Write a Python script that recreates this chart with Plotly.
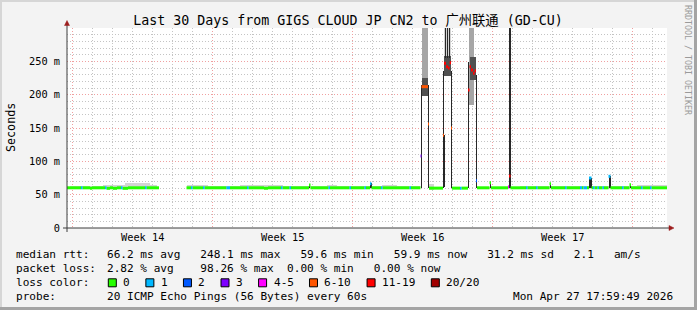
import plotly.graph_objects as go

# ---------------- data ----------------
LOSS_LABELS = ["0", "1", "2", "3", "4-5", "6-10", "11-19", "20/20"]
LOSS_UPPER = [0, 1, 2, 3, 5, 10, 19, 20]
LOSS_COLORS = ["#26ff00", "#00b8ff", "#0059ff", "#7e00ff", "#ff00ff", "#ff5500", "#ff0000", "#a10000"]

T_END = 30.0  # days shown (Last 30 Days)

# median rtt steps: start time (days since window start), median (ms), lost pings (of 20)
med_t = [0, 0.7, 0.775, 1.15, 1.25, 1.9, 1.975, 2.15, 2.3, 2.5, 2.7, 2.775, 3.05, 3.9, 3.975, 4.6,
         5.975, 6.2, 6.275, 6.8, 6.875, 7.975, 8.15, 9.0, 9.075, 9.85, 10.05, 10.7, 10.775, 11.125, 11.2,
         12.1, 12.175, 13.075, 13.15, 14.125, 14.2, 14.875, 14.95, 15.15, 15.225, 15.7, 15.775, 17.125, 17.2,
         17.675, 17.725, 18.05, 18.1, 18.8, 18.85, 18.95, 19.05, 19.13, 19.2, 19.25, 19.65, 19.725,
         20.05, 20.125, 20.2, 20.3, 20.38, 20.45, 20.5, 21.125, 21.2, 22.05, 22.1, 22.175,
         22.95, 23.025, 23.45, 23.525, 24.125, 24.2, 24.9, 24.975, 25.65, 25.75, 25.825, 26.0, 26.1, 26.225,
         26.3, 26.375, 26.525, 26.6, 26.775, 26.85, 27.075, 27.175, 27.75, 27.825, 28.125, 28.2, 28.7, 28.775, 29.15, 29.225]
med_ms = [60.3, 60.3, 60.3, 59.6, 60.3, 60.3, 59.5, 60.3, 59.5, 60.3, 60.3, 59.5, 60.3, 60.3, 60.3, None,
          60.3, 60.3, 60.3, 60.3, 60.3, 60.3, 60.3, 60.3, 60.3, 59.6, 60.3, 60.3, 60.3, 60.3, 60.3,
          64.5, 60.3, 60.3, 60.3, 60.3, 60.3, 60.3, 60.3, 66.5, 60.3, 60.3, 60.3, 60.3, 60.3,
          108, 212, 156, 59.8, 139, 247, 242, 240, 248, 150, 59.8, 59.8, 59.8,
          207, 242, 237, 232, 236, 71, 60.3, 68, 60.3, 62, 78, 60.3,
          60.3, 60.3, 60.3, 60.3, 66.5, 60.3, 60.3, 60.3, 60.3, 60.3, 60.3, 60.3, 75, 60.3,
          60.3, 60.3, 60.3, 60.3, 60.3, 60.3, 77.5, 60.3, 60.3, 60.3, 65, 60.3, 60.3, 60.3, 60.3, 60.3]
med_loss = [0, 1, 0, 0, 0, 1, 0, 0, 0, 0, 1, 0, 0, 1, 0, None,
            0, 1, 0, 1, 0, 1, 0, 1, 0, 0, 0, 1, 0, 1, 0,
            0, 0, 1, 0, 1, 0, 1, 0, 1, 0, 1, 0, 1, 0,
            3, 8, 8, 0, 8, 15, 15, 15, 15, 8, 0, 1, 0,
            15, 15, 15, 15, 15, 2, 0, 0, 0, 4, 15, 0,
            1, 0, 1, 0, 0, 0, 1, 0, 1, 0, 1, 0, 1, 0,
            1, 0, 1, 0, 1, 0, 1, 0, 1, 0, 0, 0, 1, 0, 1, 0]

# smoke (ping spread) bands: (t0, t1, low ms, high ms), by shade
smoke_light = [(0.15, 1.8, 59, 63), (1.8, 2.9, 59, 65), (2.9, 4.15, 59, 67), (4.15, 4.5, 59, 65),
               (6.0, 6.65, 59, 65), (6.65, 7.05, 59, 64), (7.05, 8.65, 59, 62.5), (8.65, 9.5, 59, 64),
               (9.5, 10.8, 59, 65), (10.8, 13.0, 59, 62.5), (13.0, 13.5, 59, 64.5), (13.5, 15.75, 59, 62.5),
               (15.75, 16.5, 59, 65), (16.5, 17.65, 59, 63.5), (18.1, 18.35, 57, 66), (18.35, 18.8, 59, 62),
               (18.85, 19.2, 255, 310), (19.25, 20.05, 59, 62), (20.5, 22.65, 59, 62),
               (22.65, 25.65, 59, 62.5), (25.65, 28.5, 59, 63), (28.5, 30.0, 59, 64.5)]
smoke_mid = [(17.725, 18.05, 225, 310), (20.1, 20.35, 185, 310)]
smoke_dark = [(17.725, 18.05, 198, 225), (18.85, 19.2, 228, 258), (20.125, 20.45, 222, 256)]
smoke_black = [(17.675, 17.735, 60, 214), (18.035, 18.1, 60, 214), (18.8, 18.86, 60, 236),
               (18.8, 18.9, 62, 139), (18.9, 18.94, 255, 310), (18.99, 19.03, 255, 310),
               (19.12, 19.16, 255, 310), (19.2, 19.26, 60, 235), (20.05, 20.11, 60, 249),
               (20.45, 20.51, 60, 230), (21.125, 21.2, 60, 68), (22.075, 22.185, 60, 310),
               (12.1, 12.165, 60, 65), (15.15, 15.225, 60, 67), (24.125, 24.2, 60, 67),
               (26.1, 26.235, 60, 75), (27.075, 27.185, 60, 78), (28.125, 28.19, 60, 65)]

week_bounds = [0.25, 7.25, 14.25, 21.25, 28.25]
week_label_pos = [3.75, 10.75, 17.75, 24.75]
week_labels = ["Week 14", "Week 15", "Week 16", "Week 17"]

y_tickvals = [0, 50, 100, 150, 200, 250]
y_ticktext = ["0", "50 m", "100 m", "150 m", "200 m", "250 m"]

title_text = "Last 30 Days from GIGS CLOUD JP CN2 to 广州联通 (GD-CU)"
row_labels = ["median rtt:", "packet loss:", "loss color:", "probe:"]
rtt_text = "66.2 ms avg   248.1 ms max   59.6 ms min   59.9 ms now   31.2 ms sd   2.1   am/s"
loss_text = "2.82 % avg    98.26 % max  0.00 % min   0.00 % now"
probe_text = "20 ICMP Echo Pings (56 Bytes) every 60s"
date_text = "Mon Apr 27 17:59:49 2026"
watermark = "RRDTOOL / TOBI OETIKER"

# ---------------- layout helpers ----------------
W, H = 697, 310
ML, MR, MT, MB = 67, 30, 28, 82
PW, PH = W - ML - MR, H - MT - MB
MONO = "DejaVu Sans Mono, Noto Sans CJK SC, monospace"


def px_x(px):
    return (px - ML) / PW


def px_y(py):
    return (H - MB - py) / PH


def nb(s):
    return s.replace(" ", "\u00a0")


def loss_cat(l):
    for i, up in enumerate(LOSS_UPPER):
        if l <= up:
            return i
    return len(LOSS_UPPER) - 1


fig = go.Figure()


def add_smoke(segs, color):
    # colour alpha slightly below 1 makes plotly snap bar edges to whole pixels (crisp columns)
    fig.add_trace(go.Bar(
        x=[(a + b) / 2 for a, b, _, _ in segs],
        width=[b - a for a, b, _, _ in segs],
        base=[lo for _, _, lo, _ in segs],
        y=[hi - lo for _, _, lo, hi in segs],
        marker=dict(color=color, line=dict(width=0)),
        hoverinfo="skip", showlegend=False))


add_smoke(smoke_light, "rgba(211,211,211,0.999)")
add_smoke(smoke_mid, "rgba(166,166,166,0.999)")
add_smoke(smoke_dark, "rgba(81,81,81,0.999)")
add_smoke(smoke_black, "rgba(39,39,39,0.999)")

# median line, coloured by packet loss
bounds = med_t + [T_END]
seg_x = {i: [] for i in range(len(LOSS_UPPER))}
seg_y = {i: [] for i in range(len(LOSS_UPPER))}
for i, (m, l) in enumerate(zip(med_ms, med_loss)):
    if m is None:
        continue
    c = loss_cat(l)
    seg_x[c] += [bounds[i], bounds[i + 1], None]
    seg_y[c] += [m, m, None]
for c in range(len(LOSS_UPPER)):
    if seg_x[c]:
        fig.add_trace(go.Scatter(x=seg_x[c], y=seg_y[c], mode="lines",
                                 line=dict(color=LOSS_COLORS[c], width=3),
                                 hoverinfo="skip", showlegend=False))

MAJ = "#f0a0a0"
MIN = "#c4c4c4"
DOT = "1px,2px"

fig.update_layout(
    width=W, height=H, autosize=False,
    margin=dict(l=ML, r=MR, t=MT, b=MB, pad=0),
    paper_bgcolor="#f3f3f3", plot_bgcolor="#ffffff",
    barmode="overlay", bargap=0, showlegend=False,
    font=dict(family=MONO, size=11, color="#000000"),
    title=dict(text=title_text, font=dict(family=MONO, size=13.3, color="#000000"),
               xref="container", x=348.0 / W, xanchor="center",
               yref="container", y=1 - 20.0 / H, yanchor="middle"),
    xaxis=dict(range=[0, T_END], tickvals=week_bounds, showticklabels=False, ticks="",
               showgrid=True, gridcolor=MAJ, griddash=DOT, gridwidth=1,
               zeroline=False, showline=False, fixedrange=True,
               minor=dict(tick0=0.25, dtick=1, showgrid=True, gridcolor=MIN,
                          griddash=DOT, gridwidth=1, ticks="")),
    yaxis=dict(range=[0, 300], tickvals=y_tickvals, ticktext=[nb(t) for t in y_ticktext],
               ticks="", ticklabelstandoff=6, tickfont=dict(family=MONO, size=10.3, color="#000000"),
               showgrid=True, gridcolor=MAJ, griddash=DOT, gridwidth=1,
               zeroline=False, showline=False, fixedrange=True,
               minor=dict(tick0=0, dtick=10, showgrid=True, gridcolor=MIN,
                          griddash=DOT, gridwidth=1, ticks="")),
)

shapes = []
# frame
shapes.append(dict(type="rect", xref="paper", yref="paper", x0=px_x(0), x1=px_x(W), y0=px_y(0), y1=px_y(2),
                   fillcolor="#d6d6d6", line=dict(width=0), layer="below"))
shapes.append(dict(type="rect", xref="paper", yref="paper", x0=px_x(0), x1=px_x(2), y0=px_y(0), y1=px_y(H),
                   fillcolor="#d6d6d6", line=dict(width=0), layer="below"))
shapes.append(dict(type="rect", xref="paper", yref="paper", x0=px_x(0), x1=px_x(W), y0=px_y(H - 3), y1=px_y(H),
                   fillcolor="#a4a4a4", line=dict(width=0), layer="above"))
shapes.append(dict(type="rect", xref="paper", yref="paper", x0=px_x(W - 3), x1=px_x(W), y0=px_y(0), y1=px_y(H),
                   fillcolor="#a4a4a4", line=dict(width=0), layer="above"))
# axes with arrows
AX = "#3c3c3c"
ARR = "#9c1c1c"
shapes.append(dict(type="line", xref="paper", yref="paper", x0=px_x(67), x1=px_x(67), y0=px_y(232), y1=px_y(24),
                   line=dict(color=AX, width=1), layer="above"))
shapes.append(dict(type="line", xref="paper", yref="paper", x0=px_x(63), x1=px_x(670), y0=px_y(228), y1=px_y(228),
                   line=dict(color=AX, width=1), layer="above"))
shapes.append(dict(type="path", xref="paper", yref="paper",
                   path="M {a},{b} L {c},{b} L {d},{e} Z".format(a=px_x(64.5), b=px_y(25.5), c=px_x(69.5),
                                                               d=px_x(67), e=px_y(20.5)),
                   fillcolor=ARR, line=dict(color=ARR, width=0.5), layer="above"))
shapes.append(dict(type="path", xref="paper", yref="paper",
                   path="M {a},{b} L {a},{c} L {d},{e} Z".format(a=px_x(669), b=px_y(225.5), c=px_y(230.5),
                                                               d=px_x(674), e=px_y(228)),
                   fillcolor=ARR, line=dict(color=ARR, width=0.5), layer="above"))

annotations = []
# week labels (placed on the data x-scale)
for pos, lab in zip(week_label_pos, week_labels):
    annotations.append(dict(x=pos, xref="x", y=px_y(237.3), yref="paper", text=nb(lab), showarrow=False,
                            xanchor="center", yanchor="middle", font=dict(family=MONO, size=10.3, color="#000")))
# y axis title
annotations.append(dict(x=px_x(10.5), xref="paper", y=px_y(127.5), yref="paper", text="Seconds", textangle=-90,
                        showarrow=False, xanchor="center", yanchor="middle",
                        font=dict(family=MONO, size=11.7, color="#000")))
# watermark
annotations.append(dict(x=px_x(688), xref="paper", y=px_y(60), yref="paper", text=nb(watermark), textangle=90,
                        showarrow=False, xanchor="center", yanchor="middle",
                        font=dict(family=MONO, size=8.3, color="#9a9a9a")))

ROW_Y = [254.5, 268.3, 282.3, 296.0]
LEG = dict(family=MONO, size=11.08, color="#000")
for lab, ry in zip(row_labels, ROW_Y):
    annotations.append(dict(x=px_x(15), xref="paper", y=px_y(ry), yref="paper", text=nb(lab), showarrow=False,
                            xanchor="left", yanchor="middle", font=LEG, borderpad=0))
for txt, ry in [(rtt_text, ROW_Y[0]), (loss_text, ROW_Y[1]), (probe_text, ROW_Y[3])]:
    annotations.append(dict(x=px_x(106.3), xref="paper", y=px_y(ry), yref="paper", text=nb(txt), showarrow=False,
                            xanchor="left", yanchor="middle", font=LEG, borderpad=0))
annotations.append(dict(x=px_x(512.3), xref="paper", y=px_y(ROW_Y[3]), yref="paper", text=nb(date_text),
                        showarrow=False, xanchor="left", yanchor="middle", font=LEG, borderpad=0))

# loss colour legend boxes
CHAR_W = 6.67
bx = 108.3
for lab, col in zip(LOSS_LABELS, LOSS_COLORS):
    shapes.append(dict(type="rect", xref="paper", yref="paper", x0=px_x(bx), x1=px_x(bx + 8),
                       y0=px_y(ROW_Y[2] + 4.5), y1=px_y(ROW_Y[2] - 3.5),
                       fillcolor=col, line=dict(color="#000", width=1), layer="above"))
    annotations.append(dict(x=px_x(bx + 14), xref="paper", y=px_y(ROW_Y[2]), yref="paper", text=nb(lab),
                            showarrow=False, xanchor="left", yanchor="middle", font=LEG, borderpad=0))
    bx += 15 + len(lab) * CHAR_W + 15.9

fig.update_layout(shapes=shapes, annotations=annotations)

fig.write_html("out.html")
